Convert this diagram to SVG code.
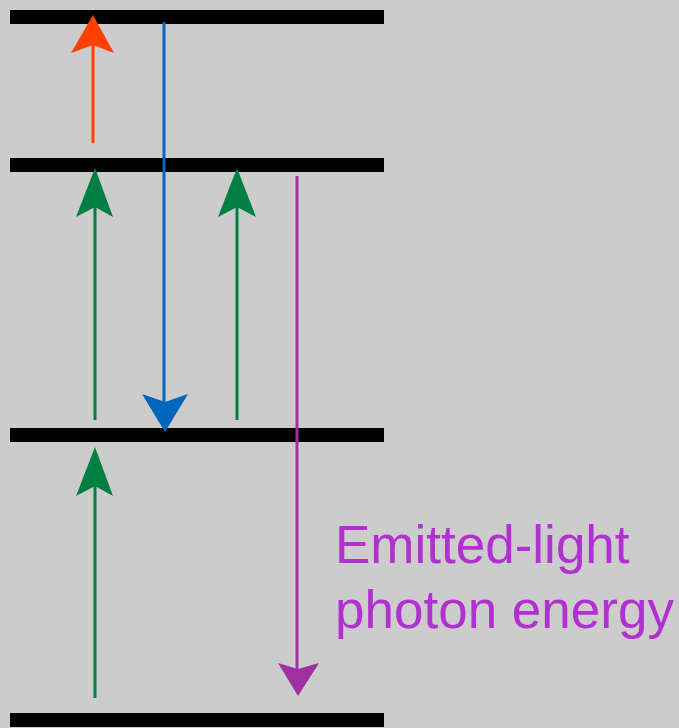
<svg xmlns="http://www.w3.org/2000/svg" width="679" height="728" viewBox="0 0 679 728">
<style>
.lvl{fill:#000}
.ln{stroke-width:3;fill:none}
.lbl{font-family:"Liberation Sans",Arial,sans-serif;font-size:53px;fill:#B030D0}
</style>
<rect width="679" height="728" fill="#CCCCCC"/>
<g id="level4"><rect class="lvl" x="10" y="10" width="374" height="14"/></g>
<g id="level3"><rect class="lvl" x="10" y="158" width="374" height="14"/></g>
<g id="level2"><rect class="lvl" x="10" y="428" width="374" height="14"/></g>
<g id="level1"><rect class="lvl" x="10" y="713" width="374" height="14"/></g>
<g id="connectors">
<g id="red-up">
<line class="ln" x1="93" y1="143" x2="93" y2="45" stroke="#FF4000"/>
<path d="M93,15 L114,53 L93,45 L71,53 Z" fill="#FF4000"/>
</g>
<g id="blue-down">
<line class="ln" x1="164" y1="22" x2="164" y2="402" stroke="#0066BB"/>
<path d="M165,432 L188,394 L165,402 L142,394 Z" fill="#0066BB"/>
</g>
<g id="green-up-1">
<line class="ln" x1="95" y1="420" x2="95" y2="207" stroke="#008040"/>
<path d="M95,168 L113,217 L95,207 L76,217 Z" fill="#008040"/>
</g>
<g id="green-up-2">
<line class="ln" x1="237" y1="420" x2="237" y2="207" stroke="#008040"/>
<path d="M237,168 L256,217 L237,207 L218,217 Z" fill="#008040"/>
</g>
<g id="green-up-3">
<line class="ln" x1="95" y1="698" x2="95" y2="486" stroke="#008040"/>
<path d="M95,447 L113,496 L95,486 L76,496 Z" fill="#008040"/>
</g>
<g id="purple-down">
<line class="ln" x1="297" y1="176" x2="297" y2="669" stroke="#A030A0"/>
<path d="M298,696 L319,663 L298,669 L278,663 Z" fill="#A030A0"/>
</g>
</g>
<g id="label">
<text class="lbl" x="335" y="563">Emitted-light</text>
<text class="lbl" x="335" y="628">photon energy</text>
</g>
</svg>
